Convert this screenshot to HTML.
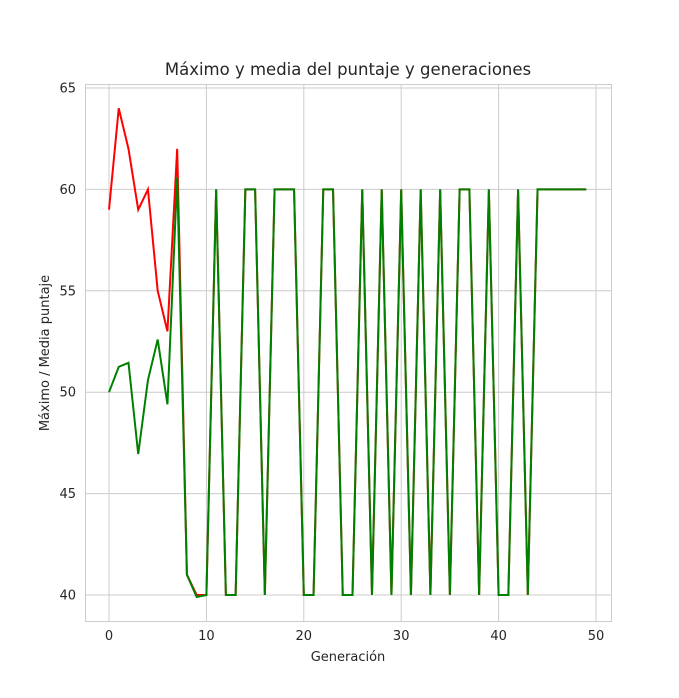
<!DOCTYPE html>
<html><head><meta charset="utf-8"><style>
body{margin:0;background:#fff;}
svg{display:block;font-family:"DejaVu Sans","Liberation Sans",sans-serif;}
</style></head><body>
<svg id="chart" width="679" height="698">
<rect width="679" height="698" fill="#fff"/>
<g id="grid"></g>
<rect x="85.5" y="84.5" width="526" height="537" fill="none" stroke="#cccccc" stroke-width="1"/>
<g id="series"></g>
<g id="ticks" font-size="13" fill="#262626"></g>
<text x="348" y="75" text-anchor="middle" font-size="16.5" fill="#262626">Máximo y media del puntaje y generaciones</text>
<text x="348" y="661" text-anchor="middle" font-size="13" fill="#262626">Generación</text>
<text transform="translate(49,353) rotate(-90)" text-anchor="middle" font-size="13" fill="#262626">Máximo / Media puntaje</text>
</svg>
<script>
const generations = Array.from({length:50},(_, i)=>i);
const maxValues = [59,64,62,59,60,55,53,62,41,40,40,60,40,40,60,60,40,60,60,60,40,40,60,60,40,40,60,40,60,40,60,40,60,40,60,40,60,60,40,60,40,40,60,40,60,60,60,60,60,60];
const meanValues = [50,51.25,51.45,46.95,50.6,52.6,49.4,60.6,41,39.9,40,60,40,40,60,60,40,60,60,60,40,40,60,60,40,40,60,40,60,40,60,40,60,40,60,40,60,60,40,60,40,40,60,40,60,60,60,60,60,60];
const xTicks = [0,10,20,30,40,50];
const yTicks = [40,45,50,55,60,65];

const NS="http://www.w3.org/2000/svg";
const xs = v => 109 + v*(596-109)/50;
const ys = v => 595 - (v-40)*(595-88)/25;
const grid=document.getElementById('grid'), ticks=document.getElementById('ticks'), series=document.getElementById('series');

xTicks.forEach(t=>{
  const l=document.createElementNS(NS,'line');
  l.setAttribute('x1',xs(t));l.setAttribute('x2',xs(t));l.setAttribute('y1',84);l.setAttribute('y2',621);
  l.setAttribute('stroke','#cccccc');
  
  
  grid.appendChild(l);
  const tx=document.createElementNS(NS,'text');
  tx.setAttribute('x',xs(t));tx.setAttribute('y',640);tx.setAttribute('text-anchor','middle');
  tx.textContent=t;
  
  
  ticks.appendChild(tx);
});
yTicks.forEach(t=>{
  const l=document.createElementNS(NS,'line');
  l.setAttribute('x1',85);l.setAttribute('x2',611);l.setAttribute('y1',ys(t));l.setAttribute('y2',ys(t));
  l.setAttribute('stroke','#cccccc');
  
  
  grid.appendChild(l);
  const tx=document.createElementNS(NS,'text');
  tx.setAttribute('x',76);tx.setAttribute('y',ys(t)+4.5);tx.setAttribute('text-anchor','end');
  tx.textContent=t;
  
  
  ticks.appendChild(tx);
});
function line(vals,color){
  const p=document.createElementNS(NS,'polyline');
  p.setAttribute('points',vals.map((v,i)=>xs(generations[i])+','+ys(v)).join(' '));
  p.setAttribute('fill','none');p.setAttribute('stroke',color);p.setAttribute('stroke-width','2');
  p.setAttribute('stroke-linejoin','miter');
  series.appendChild(p);
  return p;
}
const r=line(maxValues,'#ff0000');


const g=line(meanValues,'#008000');


</script>
</body></html>
